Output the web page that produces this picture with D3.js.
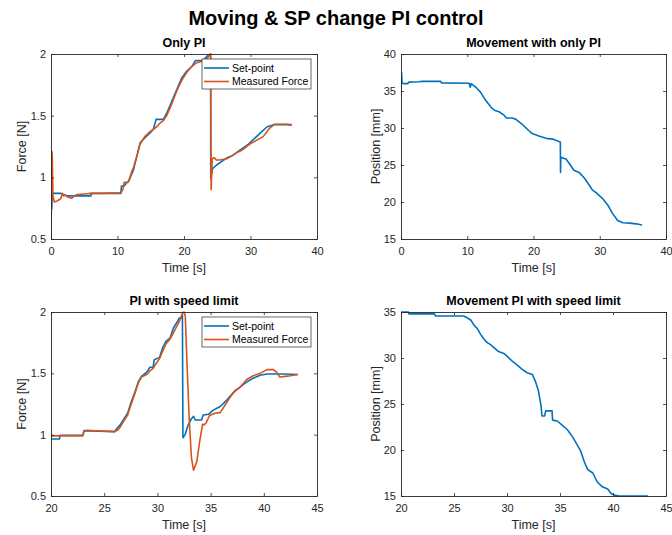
<!DOCTYPE html>
<html>
<head>
<meta charset="utf-8">
<script src="https://cdn.jsdelivr.net/npm/d3@7"></script>
<style>
  html, body { margin: 0; padding: 0; background: #fff; }
  svg { display: block; font-family: "Liberation Sans", Arial, Helvetica, sans-serif; }
</style>
</head>
<body>
<svg id="fig" width="672" height="535"></svg>
<script>
// ---- Only PI: force set-point and measured force ----
const spOnlyPITime = [0, 0.1, 0.2, 0.35, 1.5, 2.0, 2.4, 6.0, 6.1, 10.5, 10.6, 11.0, 11.3, 11.7, 12.4, 12.9, 13.4, 14.1, 14.9, 15.4, 15.8, 16.9, 17.4, 18.2, 18.9, 19.7, 20.4, 21.2, 21.7, 22.9, 23.4, 24.0, 24.02, 24.3, 24.9, 26.4, 27.4, 28.4, 29.5, 30.5, 31.5, 32.5, 33.5, 36.2];
const spOnlyPI     = [1.0, 0.74, 0.87, 0.87, 0.87, 0.855, 0.85, 0.85, 0.87, 0.87, 0.93, 0.93, 0.95, 0.97, 1.06, 1.17, 1.28, 1.32, 1.36, 1.39, 1.47, 1.47, 1.52, 1.62, 1.71, 1.81, 1.86, 1.90, 1.947, 1.947, 1.98, 2.0, 0.99, 1.07, 1.1, 1.156, 1.18, 1.22, 1.26, 1.31, 1.36, 1.41, 1.427, 1.427];
const forceOnlyPITime = [0, 0.15, 0.2, 0.3, 0.5, 1.0, 1.5, 1.7, 1.9, 2.1, 2.5, 3.1, 3.5, 4.0, 5.0, 6.0, 7.5, 10.5, 10.8, 11.0, 11.6, 12.1, 12.4, 12.9, 13.4, 14.1, 14.9, 15.4, 15.9, 16.4, 16.9, 17.4, 18.2, 18.9, 19.7, 20.4, 21.2, 21.9, 22.6, 23.4, 24.0, 24.08, 24.25, 24.5, 24.9, 25.4, 26.4, 27.1, 27.9, 28.7, 29.2, 29.9, 30.9, 31.9, 32.9, 33.6, 35.5, 36.2];
const forceOnlyPI     = [0.5, 1.21, 1.15, 0.85, 0.80, 0.81, 0.83, 0.87, 0.85, 0.86, 0.84, 0.83, 0.85, 0.86, 0.865, 0.87, 0.87, 0.875, 0.9, 0.96, 0.96, 1.04, 1.08, 1.17, 1.27, 1.33, 1.37, 1.39, 1.41, 1.44, 1.46, 1.5, 1.60, 1.70, 1.79, 1.85, 1.90, 1.93, 1.94, 1.96, 2.0, 0.90, 1.15, 1.16, 1.14, 1.14, 1.15, 1.17, 1.20, 1.22, 1.24, 1.27, 1.30, 1.33, 1.40, 1.43, 1.43, 1.42];

// ---- Only PI: position ----
const posOnlyPITime = [0, 0.08, 0.15, 0.3, 1.0, 1.2, 2.7, 3.2, 6.0, 6.1, 10.3, 10.45, 10.6, 11.3, 12.0, 12.8, 13.6, 14.1, 14.8, 15.6, 15.9, 16.8, 17.3, 18.3, 19.1, 19.8, 20.9, 21.9, 22.9, 24.05, 24.08, 24.12, 24.35, 24.5, 24.9, 25.4, 26.1, 26.9, 27.7, 28.4, 28.9, 29.4, 30.4, 31.2, 31.9, 32.7, 33.5, 34.5, 35.5, 36.4];
const posOnlyPI     = [35.1, 37.5, 36.2, 36.0, 36.0, 36.2, 36.25, 36.3, 36.3, 36.1, 36.05, 35.5, 36.0, 35.5, 34.85, 33.7, 32.8, 32.4, 32.2, 31.7, 31.35, 31.35, 31.2, 30.5, 29.8, 29.25, 28.9, 28.6, 28.5, 28.1, 24.0, 26.0, 26.0, 25.9, 25.8, 25.2, 24.3, 24.0, 23.2, 22.3, 21.6, 21.3, 20.5, 19.6, 18.5, 17.5, 17.2, 17.15, 17.05, 16.9];

// ---- PI with speed limit: force set-point and measured force ----
const spLimitTime = [20, 20.8, 20.85, 23.0, 23.1, 26.0, 26.1, 26.5, 26.9, 27.2, 27.5, 27.9, 28.2, 28.5, 29.0, 29.3, 29.6, 29.7, 30.2, 30.5, 30.8, 31.2, 31.5, 31.8, 32.05, 32.3, 32.35, 32.4, 32.6, 32.9, 33.2, 33.4, 33.55, 34.15, 34.3, 34.8, 35.25, 35.9, 36.5, 37.1, 37.8, 38.4, 39.0, 39.65, 40.3, 41.9, 43.2];
const spLimit     = [0.965, 0.965, 0.995, 0.997, 1.033, 1.025, 1.04, 1.08, 1.134, 1.175, 1.257, 1.35, 1.43, 1.475, 1.51, 1.55, 1.55, 1.61, 1.63, 1.71, 1.76, 1.79, 1.87, 1.91, 1.95, 1.95, 1.98, 0.975, 1.0, 1.08, 1.13, 1.15, 1.12, 1.12, 1.16, 1.166, 1.2, 1.23, 1.28, 1.34, 1.39, 1.43, 1.46, 1.484, 1.495, 1.495, 1.49];
const forceLimitTime = [20, 23.0, 23.1, 23.4, 24.5, 26.0, 26.3, 26.5, 26.9, 27.2, 27.5, 27.9, 28.2, 28.5, 29.0, 29.3, 29.6, 29.8, 30.2, 30.5, 30.8, 31.2, 31.5, 31.8, 32.1, 32.35, 32.5, 32.62, 32.8, 32.99, 33.2, 33.4, 33.7, 34.0, 34.25, 34.4, 34.6, 34.9, 35.4, 35.9, 36.35, 36.8, 37.3, 37.8, 38.4, 39.0, 39.65, 40.3, 40.9, 41.2, 41.5, 42.0, 42.5, 43.2];
const forceLimit     = [0.99, 0.99, 1.025, 1.035, 1.03, 1.025, 1.04, 1.06, 1.12, 1.16, 1.24, 1.34, 1.42, 1.47, 1.49, 1.52, 1.54, 1.57, 1.62, 1.68, 1.74, 1.78, 1.83, 1.88, 1.93, 1.99, 2.0, 1.97, 1.54, 1.13, 0.81, 0.71, 0.78, 0.96, 1.085, 1.08, 1.1, 1.156, 1.175, 1.18, 1.24, 1.30, 1.36, 1.39, 1.45, 1.48, 1.5, 1.53, 1.53, 1.51, 1.47, 1.475, 1.48, 1.49];

// ---- PI with speed limit: position ----
const posLimitTime = [20, 20.7, 20.75, 23.15, 23.25, 25.9, 26.2, 26.6, 26.9, 27.2, 27.5, 27.8, 28.1, 28.45, 28.8, 29.2, 29.7, 30.0, 30.5, 31.0, 31.4, 31.9, 32.4, 32.7, 32.95, 33.2, 33.3, 33.55, 33.65, 34.25, 34.3, 34.75, 35.2, 35.7, 36.2, 36.65, 36.95, 37.3, 37.6, 38.1, 38.5, 39.0, 39.5, 39.8, 40.1, 40.6, 43.3];
const posLimit     = [35.0, 35.0, 34.8, 34.8, 34.57, 34.57, 34.4, 34.1, 33.55, 33.2, 32.6, 32.1, 31.7, 31.45, 31.1, 30.7, 30.5, 30.2, 29.65, 29.2, 28.8, 28.4, 28.2, 27.4, 26.5, 24.9, 23.7, 23.7, 24.25, 24.25, 23.25, 23.15, 22.7, 22.2, 21.4, 20.5, 19.9, 18.7, 17.9, 17.5, 16.55, 16.0, 15.75, 15.3, 15.1, 15.0, 15.0];

// ---- Axis ticks and text ----
const ticksTimeA = [0, 10, 20, 30, 40];
const ticksTimeB = [20, 25, 30, 35, 40, 45];
const ticksForce = [0.5, 1, 1.5, 2];
const ticksPosA  = [15, 20, 25, 30, 35, 40];
const ticksPosB  = [15, 20, 25, 30, 35];
const seriesNames = ["Set-point", "Measured Force"];
const figureTitle = "Moving & SP change PI control";

const BLUE = "#0072BD", ORANGE = "#D95319", AX = "#262626";
const svg = d3.select("#fig");

svg.append("text")
  .attr("x", 336).attr("y", 25)
  .attr("text-anchor", "middle")
  .attr("font-size", 20).attr("font-weight", "bold").attr("fill", "#000")
  .text(figureTitle);

function panel(cfg) {
  const x = d3.scaleLinear().domain(cfg.xDomain).range([cfg.left, cfg.right]);
  const y = d3.scaleLinear().domain(cfg.yDomain).range([cfg.bottom, cfg.top]);
  const g = svg.append("g");

  // clipped data lines
  const clipId = "clip" + Math.round(cfg.left) + "_" + Math.round(cfg.top);
  g.append("clipPath").attr("id", clipId).append("rect")
    .attr("x", cfg.left).attr("y", cfg.top - 1)
    .attr("width", cfg.right - cfg.left).attr("height", cfg.bottom - cfg.top + 2);

  const line = d3.line().x(d => x(d[0])).y(d => y(d[1]));
  cfg.series.forEach(s => {
    g.append("path")
      .datum(s.t.map((t, i) => [t, s.v[i]]))
      .attr("clip-path", `url(#${clipId})`)
      .attr("fill", "none").attr("stroke", s.color)
      .attr("stroke-width", 1.6).attr("stroke-linejoin", "round")
      .attr("d", line);
  });

  // axes: ticks inward on all four sides
  const styleAxis = sel => {
    sel.select(".domain").attr("stroke", AX).attr("stroke-width", 0.9);
    sel.selectAll(".tick line").attr("stroke", AX).attr("stroke-width", 0.8);
    sel.selectAll(".tick text").attr("fill", AX).attr("font-size", 11)
      .attr("font-family", "Liberation Sans, Arial, sans-serif");
  };
  g.append("g").attr("transform", `translate(0,${cfg.bottom})`)
    .call(d3.axisBottom(x).tickValues(cfg.xTicks).tickSizeInner(-3).tickSizeOuter(0)
      .tickPadding(8).tickFormat(d3.format("")))
    .call(styleAxis);
  g.append("g").attr("transform", `translate(0,${cfg.top})`)
    .call(d3.axisTop(x).tickValues(cfg.xTicks).tickSizeInner(-3).tickSizeOuter(0).tickFormat(""))
    .call(styleAxis);
  g.append("g").attr("transform", `translate(${cfg.left},0)`)
    .call(d3.axisLeft(y).tickValues(cfg.yTicks).tickSizeInner(-3).tickSizeOuter(0)
      .tickPadding(5).tickFormat(d3.format("")))
    .call(styleAxis);
  g.append("g").attr("transform", `translate(${cfg.right},0)`)
    .call(d3.axisRight(y).tickValues(cfg.yTicks).tickSizeInner(-3).tickSizeOuter(0).tickFormat(""))
    .call(styleAxis);

  // titles and labels
  const cx = (cfg.left + cfg.right) / 2, cy = (cfg.top + cfg.bottom) / 2;
  g.append("text").attr("x", cx).attr("y", cfg.top - 7)
    .attr("text-anchor", "middle").attr("font-size", 12.5).attr("font-weight", "bold")
    .attr("fill", "#000").text(cfg.title);
  g.append("text").attr("x", cx).attr("y", cfg.bottom + 33)
    .attr("text-anchor", "middle").attr("font-size", 12.5).attr("fill", AX)
    .text("Time [s]");
  g.append("text")
    .attr("transform", `translate(${cfg.left - cfg.yLabelOffset},${cy}) rotate(-90)`)
    .attr("text-anchor", "middle").attr("font-size", 12.5).attr("fill", AX)
    .text(cfg.yLabel);

  // legend
  if (cfg.legend) {
    const lx = cfg.right - 115, ly = cfg.top + 5;
    const lg = g.append("g");
    lg.append("rect").attr("x", lx).attr("y", ly).attr("width", 109).attr("height", 30)
      .attr("fill", "#fff").attr("stroke", AX).attr("stroke-width", 0.7);
    cfg.series.forEach((s, i) => {
      const yy = ly + 9 + i * 13.5;
      lg.append("line").attr("x1", lx + 2).attr("x2", lx + 27)
        .attr("y1", yy).attr("y2", yy).attr("stroke", s.color).attr("stroke-width", 1.6);
      lg.append("text").attr("x", lx + 30).attr("y", yy + 3.8)
        .attr("font-size", 10.5).attr("fill", "#000").text(seriesNames[i]);
    });
  }
}

panel({
  left: 51, right: 317, top: 54, bottom: 239,
  xDomain: [0, 40], yDomain: [0.5, 2], xTicks: ticksTimeA, yTicks: ticksForce,
  title: "Only PI", yLabel: "Force [N]", yLabelOffset: 25, legend: true,
  series: [
    { t: spOnlyPITime, v: spOnlyPI, color: BLUE },
    { t: forceOnlyPITime, v: forceOnlyPI, color: ORANGE }
  ]
});
panel({
  left: 401, right: 666, top: 54, bottom: 239,
  xDomain: [0, 40], yDomain: [15, 40], xTicks: ticksTimeA, yTicks: ticksPosA,
  title: "Movement with only PI", yLabel: "Position [mm]", yLabelOffset: 21, legend: false,
  series: [{ t: posOnlyPITime, v: posOnlyPI, color: BLUE }]
});
panel({
  left: 51, right: 317, top: 312, bottom: 496,
  xDomain: [20, 45], yDomain: [0.5, 2], xTicks: ticksTimeB, yTicks: ticksForce,
  title: "PI with speed limit", yLabel: "Force [N]", yLabelOffset: 25, legend: true,
  series: [
    { t: spLimitTime, v: spLimit, color: BLUE },
    { t: forceLimitTime, v: forceLimit, color: ORANGE }
  ]
});
panel({
  left: 401, right: 666, top: 312, bottom: 496,
  xDomain: [20, 45], yDomain: [15, 35], xTicks: ticksTimeB, yTicks: ticksPosB,
  title: "Movement PI with speed limit", yLabel: "Position [mm]", yLabelOffset: 21, legend: false,
  series: [{ t: posLimitTime, v: posLimit, color: BLUE }]
});
</script>
</body>
</html>
